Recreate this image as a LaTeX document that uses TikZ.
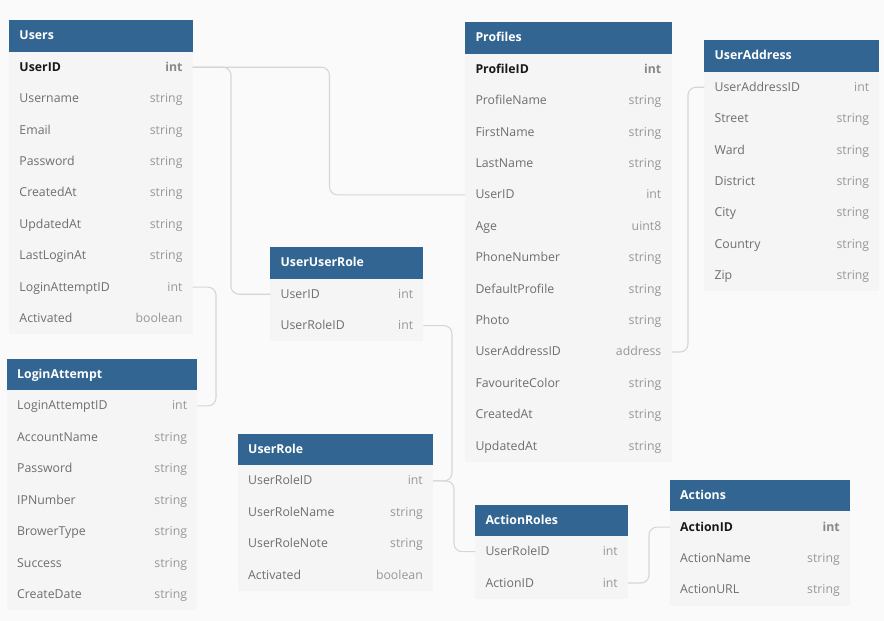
\documentclass[tikz,border=0pt]{standalone}
\usepackage{fontspec}
\setmainfont{Open Sans}
\usetikzlibrary{calc}
\definecolor{bgc}{HTML}{FAFAFA}
\definecolor{hdrc}{HTML}{326591}
\definecolor{bodyc}{HTML}{F5F5F5}
\definecolor{namec}{HTML}{6E6E6E}
\definecolor{typec}{HTML}{979797}
\definecolor{connc}{HTML}{D6D6D6}
\tikzset{
  txt/.style={inner sep=0pt, text height=10pt, text depth=2pt, font=\fontsize{12.3}{14}\selectfont},
  hdr/.style={rectangle, fill=hdrc, draw=none, minimum height=31.2pt, inner sep=0pt, outer sep=0pt},
  hdrtext/.style={txt, text=white, font=\fontsize{12.3}{14}\selectfont\bfseries},
  rowbox/.style={rectangle, fill=bodyc, draw=none, minimum height=31.42pt, inner sep=0pt, outer sep=0pt},
  kname/.style={txt, text=black!90, font=\fontsize{12.3}{14}\selectfont\bfseries},
  ktype/.style={txt, text=typec!90!black, font=\fontsize{12.3}{14}\selectfont\bfseries},
  nname/.style={txt, text=namec},
  ntype/.style={txt, text=typec},
  conn/.style={draw=connc, line width=1.1pt, rounded corners=8pt},
}
% #1 id, #2 x, #3 y, #4 width, #5 title, #6 rows name/type/kind
\newcommand{\ertable}[6]{%
  \node[hdr, minimum width=#4pt, anchor=north west] (#1) at (#2,#3) {};
  \node[hdrtext, anchor=west] (#1-title) at ([xshift=10pt]#1.west) {#5};
  \foreach \n/\t/\s [count=\i] in {#6} {
    \node[rowbox, minimum width=#4pt, anchor=north west] (#1-\n) at (#2,{#3+31.2+31.42*(\i-1)}) {};
    \node[\s name, anchor=west] (#1-\n-name) at ([xshift=10pt]#1-\n.west) {\n};
    \node[\s type, anchor=east] (#1-\n-type) at ([xshift=-10pt]#1-\n.east) {\t};
  }
}
\begin{document}
\begin{tikzpicture}[x=1pt,y=-1pt]
\fill[bgc] (0,0) rectangle (884,621);
\useasboundingbox (0,0) rectangle (884,621);

\ertable{users}{9.3}{20.3}{183.4}{Users}{UserID/int/k,Username/string/n,Email/string/n,Password/string/n,CreatedAt/string/n,UpdatedAt/string/n,LastLoginAt/string/n,LoginAttemptID/int/n,Activated/boolean/n}
\ertable{profiles}{465.3}{22.3}{206.2}{Profiles}{ProfileID/int/k,ProfileName/string/n,FirstName/string/n,LastName/string/n,UserID/int/n,Age/uint8/n,PhoneNumber/string/n,DefaultProfile/string/n,Photo/string/n,UserAddressID/address/n,FavouriteColor/string/n,CreatedAt/string/n,UpdatedAt/string/n}
\ertable{ua}{704.4}{40.3}{175}{UserAddress}{UserAddressID/int/n,Street/string/n,Ward/string/n,District/string/n,City/string/n,Country/string/n,Zip/string/n}
\ertable{uur}{270.4}{247.3}{153}{UserUserRole}{UserID/int/n,UserRoleID/int/n}
\ertable{la}{7}{359}{190.3}{LoginAttempt}{LoginAttemptID/int/n,AccountName/string/n,Password/string/n,IPNumber/string/n,BrowerType/string/n,Success/string/n,CreateDate/string/n}
\ertable{ur}{238}{434}{195}{UserRole}{UserRoleID/int/n,UserRoleName/string/n,UserRoleNote/string/n,Activated/boolean/n}
\ertable{ar}{475.3}{504.7}{152.7}{ActionRoles}{UserRoleID/int/n,ActionID/int/n}
\ertable{act}{670}{480.2}{180}{Actions}{ActionID/int/k,ActionName/string/n,ActionURL/string/n}

% junction coordinates
\coordinate (jx1) at (329.5,0);
\coordinate (jx2) at (231,0);
\coordinate (jx3) at (216,0);
\coordinate (jx4) at (452,0);
\coordinate (jx5) at (454,0);
\coordinate (jx6) at (649,0);
\coordinate (jx7) at (688,0);

\draw[conn] (users-UserID.east) -| (profiles-UserID.west -| jx1) -- (profiles-UserID.west);
\draw[conn] (users-UserID.east) -| (uur-UserID.west -| jx2) -- (uur-UserID.west);
\draw[conn] (users-LoginAttemptID.east) -| (la-LoginAttemptID.east -| jx3) -- (la-LoginAttemptID.east);
\draw[conn] (uur-UserRoleID.east) -| (ur-UserRoleID.east -| jx4) -- (ur-UserRoleID.east);
\draw[conn] (ur-UserRoleID.east) -| (ar-UserRoleID.west -| jx5) -- (ar-UserRoleID.west);
\draw[conn] (ar-ActionID.east) -| (act-ActionID.west -| jx6) -- (act-ActionID.west);
\draw[conn] (profiles-UserAddressID.east) -| (ua-UserAddressID.west -| jx7) -- (ua-UserAddressID.west);
\end{tikzpicture}
\end{document}
